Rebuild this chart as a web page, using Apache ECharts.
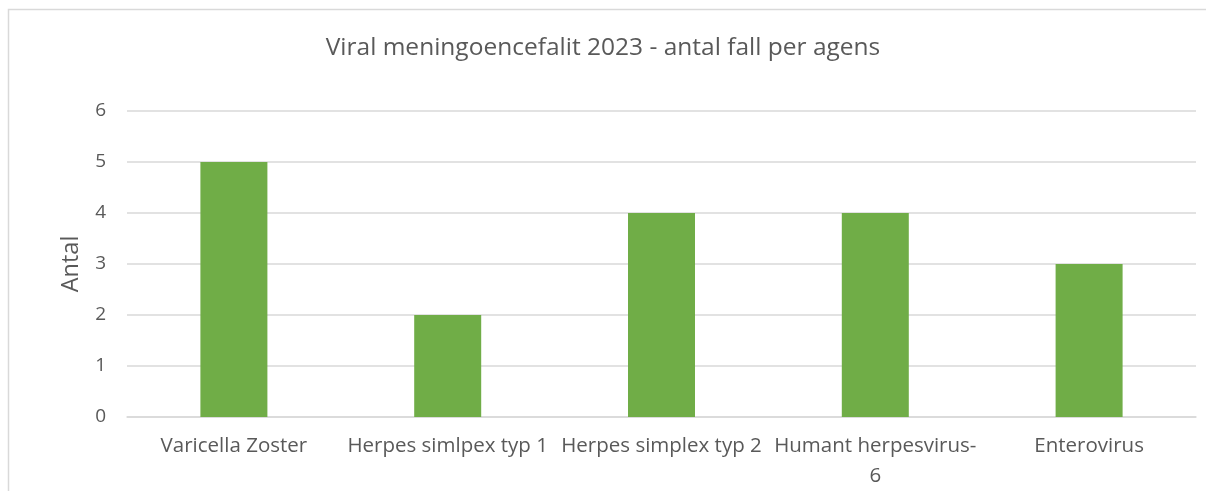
<!DOCTYPE html>
<html>
<head>
<meta charset="utf-8">
<script src="https://cdn.jsdelivr.net/npm/echarts@6/dist/echarts.min.js"></script>
<style>
html, body { margin: 0; padding: 0; background: #fff; }
#chart { width: 1206px; height: 491px; }
</style>
</head>
<body>
<div id="chart"></div>
<script>
var categories = ['Varicella Zoster', 'Herpes simlpex typ 1', 'Herpes simplex typ 2', 'Humant herpesvirus-6', 'Enterovirus'];
var values = [5, 2, 4, 4, 3];

var chart = echarts.init(document.getElementById('chart'));
var textColor = '#595959';
var font = 'Open Sans';

var option = {
	animation: false,
	backgroundColor: '#fff',
	title: {
		text: 'Viral meningoencefalit 2023 - antal fall per agens',
		left: 'center',
		top: 31,
		textStyle: {
			color: textColor,
			fontFamily: font,
			fontWeight: 'normal',
			fontSize: 24.5
		}
	},
	graphic: [{
		type: 'rect',
		shape: { x: 8.5, y: 9.5, width: 1220, height: 500 },
		style: { fill: 'none', stroke: '#d9d9d9', lineWidth: 1.5 },
		silent: true
	}],
	grid: {
		left: 127,
		right: 10,
		top: 111,
		bottom: 73
	},
	xAxis: {
		type: 'category',
		data: categories,
		axisTick: { show: false },
		axisLine: { lineStyle: { color: '#d9d9d9', width: 1.5 } },
		axisLabel: {
			color: textColor,
			fontFamily: font,
			fontSize: 20.5,
			margin: 14,
			interval: 0,
			lineHeight: 30,
			formatter: function(v) {
				return v.replace('herpesvirus-6', 'herpesvirus-\n6');
			}
		}
	},
	yAxis: {
		type: 'value',
		min: 0,
		max: 6,
		interval: 1,
		name: 'Antal',
		nameLocation: 'middle',
		nameGap: 44,
		nameTextStyle: {
			color: textColor,
			fontFamily: font,
			fontSize: 23.5
		},
		axisLine: { show: false },
		axisTick: { show: false },
		axisLabel: {
			color: textColor,
			fontFamily: font,
			fontSize: 19,
			margin: 21
		},
		splitLine: { lineStyle: { color: '#d9d9d9', width: 1.5 } }
	},
	series: [{
		type: 'bar',
		data: values,
		barWidth: 67,
		itemStyle: { color: '#70ad47' }
	}]
};

chart.setOption(option);
</script>
</body>
</html>
